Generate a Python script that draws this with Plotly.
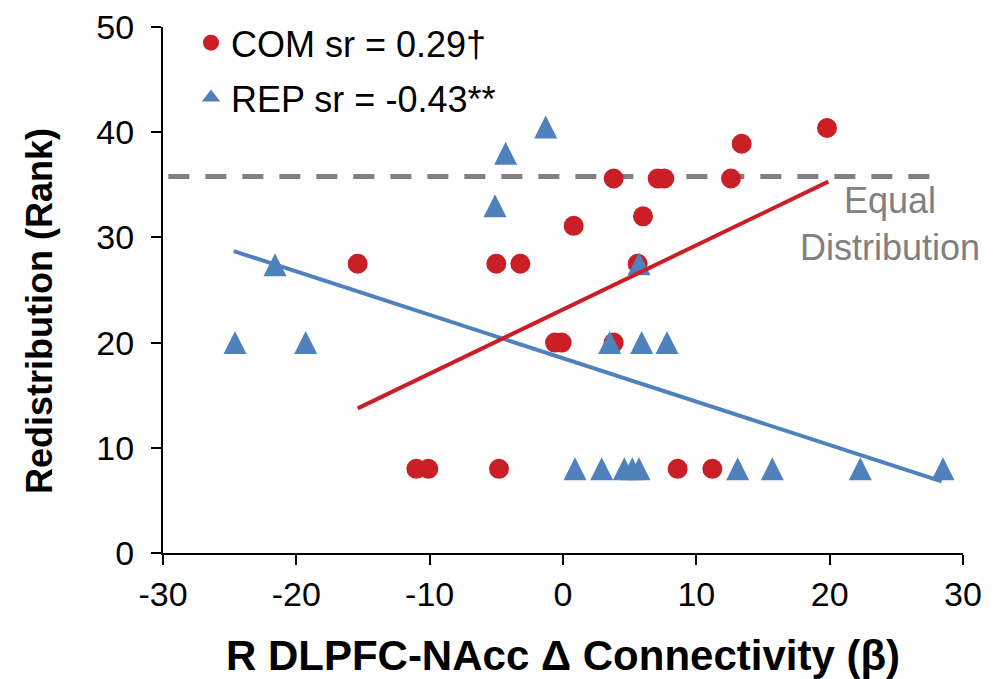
import plotly.graph_objects as go

# ---- data ----
com_x = [-15.4, -5.0, -3.2, 0.8, 3.8, 7.1, 7.6, 12.6, 13.4, 19.8, 6.0, 5.6,
         -0.6, -0.1, 3.8, -11.0, -10.1, -4.8, 8.6, 11.2]
com_y = [27.5, 27.5, 27.5, 31.1, 35.6, 35.6, 35.6, 35.6, 38.9, 40.4, 32.0, 27.5,
         20, 20, 20, 8, 8, 8, 8, 8]

rep_x = [-1.3, -4.3, -5.1, -21.6, 5.7, -24.6, -19.3, 3.5, 5.9, 7.8,
         0.9, 2.9, 4.6, 5.2, 5.7, 13.1, 15.7, 22.3, 28.5]
rep_y = [40.5, 38.0, 33.0, 27.4, 27.5, 20, 20, 20, 20, 20,
         8, 8, 8, 8, 8, 8, 8, 8, 8]

com_fit_x = [-15.4, 19.9]
com_fit_y = [13.75, 35.3]
rep_fit_x = [-24.7, 28.4]
rep_fit_y = [28.7, 6.8]

equal_x = [-29.6, 27.9]
equal_y = [35.8, 35.8]

x_tickvals = [-30, -20, -10, 0, 10, 20, 30]
x_ticktext = ["-30", "-20", "-10", "0", "10", "20", "30"]
y_tickvals = [0, 10, 20, 30, 40, 50]
y_ticktext = ["0", "10", "20", "30", "40", "50"]

com_label = "COM sr = 0.29†"
rep_label = "REP sr = -0.43**"
equal_label = "Equal<br>Distribution"
x_title = "R DLPFC-NAcc Δ Connectivity (β)"
y_title = "Redistribution (Rank)"

RED = "#CA1F26"
BLUE = "#4F81BD"
GREY = "#808080"
FONT = "Liberation Sans, Arial, Helvetica, sans-serif"
TRI = 23

fig = go.Figure()

fig.add_trace(go.Scatter(
    x=equal_x, y=equal_y, mode="lines", showlegend=False,
    line=dict(color=GREY, width=5, dash="21px,16px"), hoverinfo="skip"))

fig.add_trace(go.Scatter(
    x=com_x, y=com_y, mode="markers", name=com_label, legendgroup="com",
    marker=dict(symbol="circle", size=20, color=RED, line=dict(width=0)),
    cliponaxis=False))

# legend entry for REP (no data points)
fig.add_trace(go.Scatter(
    x=[None], y=[None], mode="markers", name=rep_label, legendgroup="rep",
    marker=dict(symbol="triangle-up", size=22, color=BLUE, line=dict(width=0))))

# REP points: isosceles triangle (width == height) centred on the point
fig.add_trace(go.Scatter(
    x=rep_x, y=rep_y, mode="markers", name=rep_label, legendgroup="rep",
    showlegend=False,
    marker=dict(symbol="arrow-down", size=TRI, angle=180, standoff=TRI / 2,
                color=BLUE, line=dict(width=0)),
    cliponaxis=False))

fig.add_trace(go.Scatter(
    x=rep_fit_x, y=rep_fit_y, mode="lines", showlegend=False,
    line=dict(color=BLUE, width=4), hoverinfo="skip"))

fig.add_trace(go.Scatter(
    x=com_fit_x, y=com_fit_y, mode="lines", showlegend=False,
    line=dict(color=RED, width=4), hoverinfo="skip"))

fig.add_annotation(
    x=24.5, y=31.3, xref="x", yref="y", text=equal_label, showarrow=False,
    font=dict(family=FONT, size=36, color=GREY), align="center",
    xanchor="center", yanchor="middle")

# y-axis title
fig.add_annotation(
    x=-0.155, y=0.46, xref="paper", yref="paper", text=y_title, showarrow=False,
    textangle=-90, xanchor="center", yanchor="middle",
    font=dict(family=FONT, size=36, color="black", weight="bold"))

fig.update_layout(
    width=989, height=671,
    margin=dict(l=155, r=34, t=19, b=126, autoexpand=False),
    paper_bgcolor="white", plot_bgcolor="white",
    font=dict(family=FONT, color="black"),
    showlegend=True,
    legend=dict(
        x=0.035, y=1.027, xanchor="left", yanchor="top",
        font=dict(family=FONT, size=36, color="black"),
        bgcolor="rgba(0,0,0,0)", borderwidth=0,
        traceorder="grouped", tracegroupgap=5, itemsizing="trace"),
    xaxis=dict(
        range=[-30, 30], tickmode="array", tickvals=x_tickvals, ticktext=x_ticktext,
        showgrid=False, zeroline=False,
        showline=True, linecolor="black", linewidth=2,
        ticks="outside", ticklen=10, tickwidth=2, tickcolor="black",
        ticklabeloverflow="allow",
        tickfont=dict(family=FONT, size=34, color="black"),
        title=dict(text=x_title, standoff=39,
                   font=dict(family=FONT, size=42, color="black", weight="bold"))),
    yaxis=dict(
        range=[0, 50.001], tickmode="array", tickvals=y_tickvals, ticktext=y_ticktext,
        showgrid=False, zeroline=False,
        showline=True, linecolor="black", linewidth=2,
        ticks="outside", ticklen=10, tickwidth=2, tickcolor="black",
        ticklabelstandoff=10, ticklabeloverflow="allow",
        tickfont=dict(family=FONT, size=34, color="black")),
)

fig.write_html("out.html")
